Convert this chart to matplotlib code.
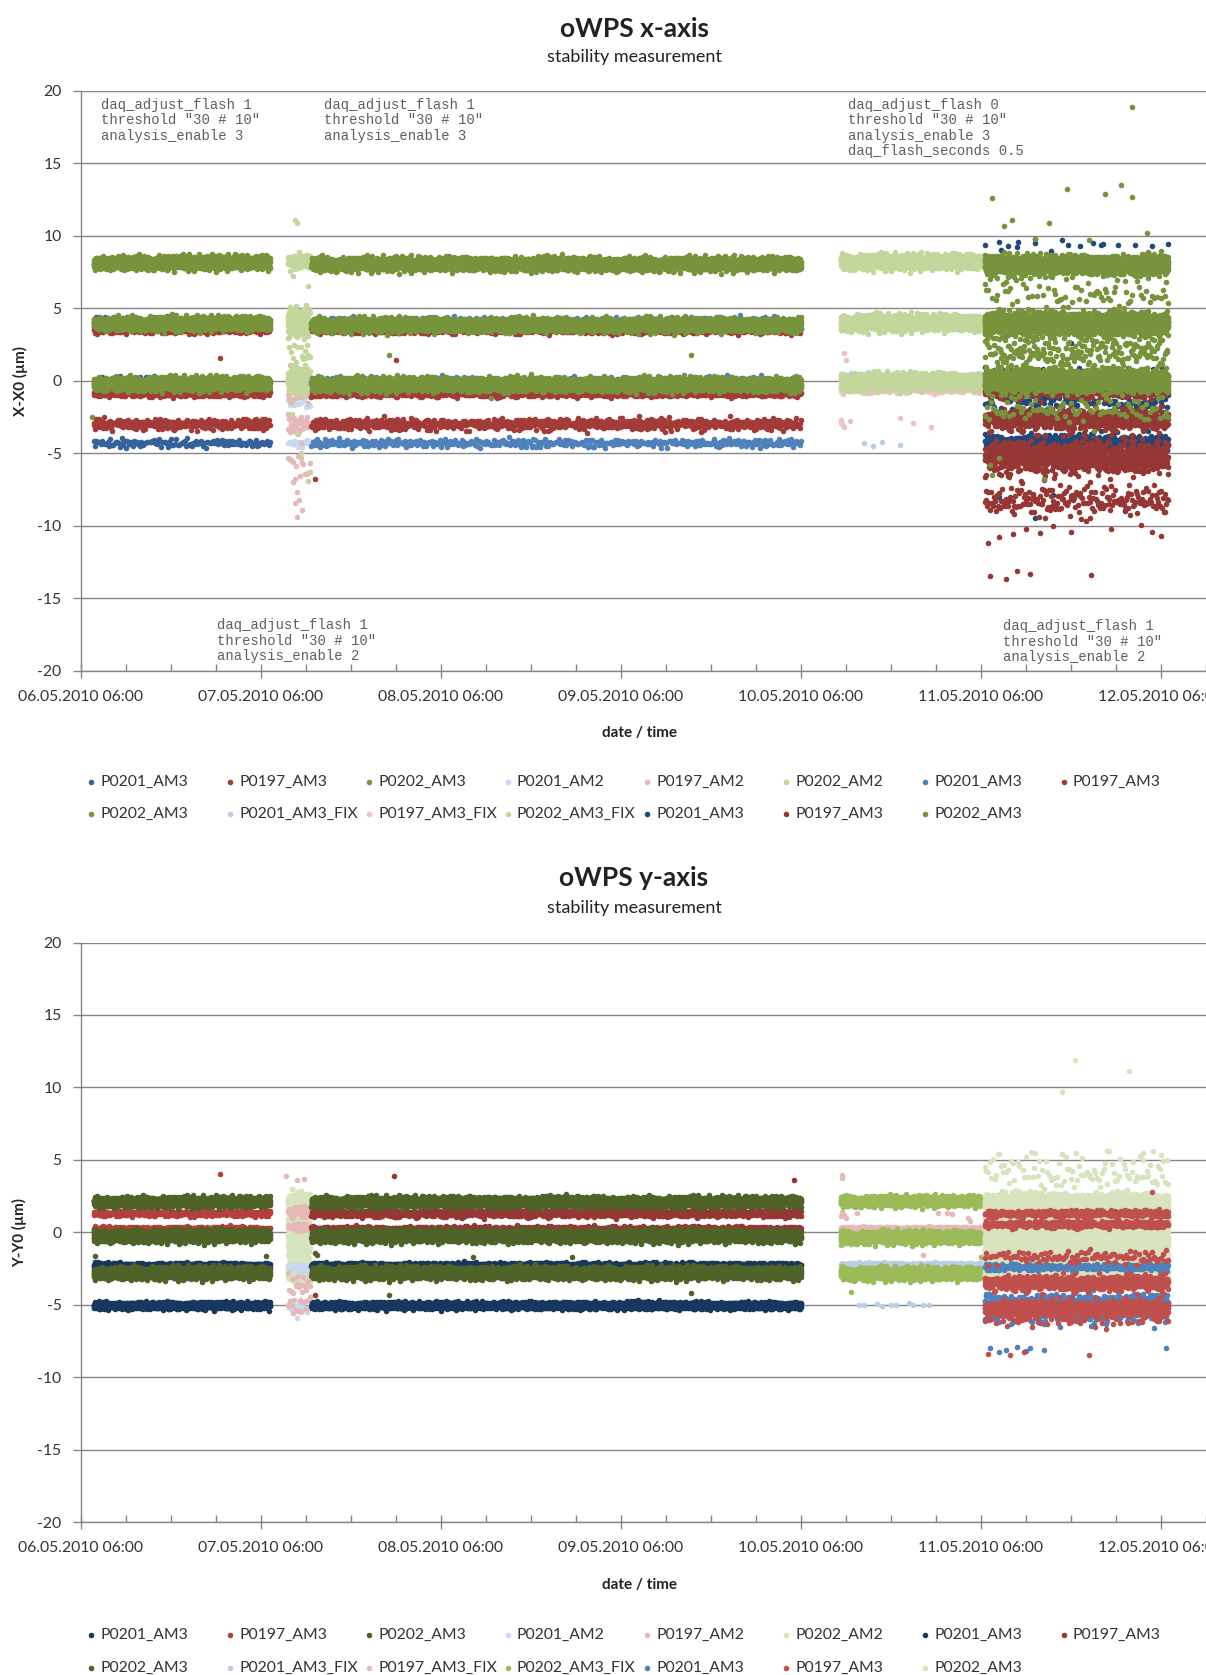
import numpy as np
import matplotlib
matplotlib.use("Agg")
import matplotlib.pyplot as plt
import matplotlib.dates as mdates
from matplotlib.lines import Line2D
from datetime import datetime

plt.rcParams['font.family'] = ['Lato', 'DejaVu Sans']
plt.rcParams['axes.unicode_minus'] = False

W, H = 1206, 1675

START = datetime(2010, 5, 6, 6, 0)
END = datetime(2010, 5, 12, 12, 0)
BASE = mdates.date2num(START)

SERIES = ["P0201_AM3", "P0197_AM3", "P0202_AM3", "P0201_AM2", "P0197_AM2",
          "P0202_AM2", "P0201_AM3", "P0197_AM3", "P0202_AM3", "P0201_AM3_FIX",
          "P0197_AM3_FIX", "P0202_AM3_FIX", "P0201_AM3", "P0197_AM3", "P0202_AM3"]

# measurement runs, in days after 06.05.2010 06:00
SEGMENTS = {"A": (0.07, 1.05), "B": (1.15, 1.27), "C": (1.28, 4.00),
            "D": (4.22, 5.01), "E": (5.02, 6.04)}

# scatter offsets of single readings around a band centre (units of sigma)
SCATTER_1 = [0.12, -1.35, 0.58, -0.27, 1.71, -0.84, 0.03, 0.96, -1.92, 0.41,
             -0.55, 1.18, -0.09, 0.73, -1.12, 0.27, 2.25, -0.38, -0.71, 0.49,
             1.42, -1.58, 0.18, -0.02, 0.86, -0.46, -2.31, 0.64, 1.05, -0.19,
             -0.93, 0.34, 1.63, -0.61, 0.08, -1.27, 0.52, -0.33, 0.91, -0.78,
             1.29, -0.14, -1.74, 0.22, 0.67, -0.50, 1.88, -1.03, 0.39, -0.24,
             0.81, -0.67, 0.15, -1.46, 1.11, -0.06, 0.45, -0.88, 2.02, -0.41, 0.29]
SCATTER_2 = [-0.44, 1.07, 0.21, -1.61, 0.66, -0.12, 0.35, -0.97, 1.52, -0.28,
             0.04, -0.69, 1.24, -1.88, 0.57, 0.19, -0.36, 0.83, -1.15, 0.48,
             -0.07, 2.11, -0.58, 0.31, -1.32, 0.74, -0.21, 0.95, -0.79, 0.11,
             -2.05, 0.62, 1.37, -0.49, 0.26, -0.93, 0.01, 1.69, -0.31, -0.64,
             0.88, -1.21, 0.43, -0.16, 1.02, -0.55, 0.14]

X_COLORS = ["#35629A", "#A33B38", "#77933C", "#C6D9F1", "#E6B9B8", "#C3D69B",
            "#4F81BD", "#A33B38", "#77933C", "#B9CDE5", "#EBC3C2", "#C3D69B",
            "#1F497D", "#953735", "#77933C"]
Y_COLORS = ["#17375E", "#B43F3C", "#4F6228", "#C6D9F1", "#E6B9B8", "#D7E4BD",
            "#17375E", "#953735", "#4F6228", "#B9CDE5", "#E6B9B8", "#9BBB59",
            "#4F81BD", "#C0504D", "#D7E4BD"]

# (series, run, centre µm, sigma µm, readings per day)
X_BANDS = [
    (0, "A", 4.05, 0.16, 250), (0, "A", -0.05, 0.16, 250), (0, "A", -4.30, 0.15, 130),
    (1, "A", 3.50, 0.12, 350), (1, "A", -0.85, 0.12, 550), (1, "A", -3.00, 0.20, 280),
    (2, "A", 8.15, 0.22, 1600), (2, "A", 3.95, 0.22, 1800), (2, "A", -0.20, 0.22, 1800),
    (3, "B", -4.30, 0.15, 150), (3, "B", -1.60, 0.30, 100),
    (4, "B", -3.00, 0.35, 400), (4, "B", -0.90, 0.30, 300), (4, "B", -6.00, 1.20, 120),
    (5, "B", 8.20, 0.25, 800), (5, "B", 4.00, 0.45, 2500), (5, "B", 0.00, 0.40, 2500),
    (5, "B", 2.00, 0.80, 150),
    (6, "C", 4.05, 0.16, 250), (6, "C", -0.05, 0.16, 250), (6, "C", -4.30, 0.15, 150),
    (7, "C", 3.50, 0.12, 350), (7, "C", -0.85, 0.12, 550), (7, "C", -3.00, 0.20, 280),
    (8, "C", 8.05, 0.22, 1600), (8, "C", 3.85, 0.22, 1800), (8, "C", -0.25, 0.22, 1800),
    (9, "D", 0.25, 0.12, 300),
    (10, "D", -0.60, 0.12, 300),
    (11, "D", 8.20, 0.24, 1800), (11, "D", 4.00, 0.26, 2000), (11, "D", -0.05, 0.26, 2000),
    (12, "E", -4.30, 0.30, 550), (12, "E", -1.50, 0.40, 120), (12, "E", 9.30, 0.30, 12),
    (12, "E", 0.50, 0.30, 60),
    (13, "E", -2.70, 0.35, 700), (13, "E", -5.30, 0.55, 950), (13, "E", -8.30, 0.55, 200),
    (13, "E", -0.70, 0.25, 500),
    (14, "E", 8.00, 0.30, 2000), (14, "E", 3.95, 0.35, 2500), (14, "E", 0.00, 0.35, 2500),
    (14, "E", 6.00, 1.00, 100), (14, "E", 2.00, 0.80, 250), (14, "E", -2.00, 0.50, 90),
]

# single readings away from the bands: (series, day, µm)
X_OUTLIERS = [
    (1, 0.77, 1.6), (1, 0.51, -1.2), (2, 0.06, -2.5),
    (4, 1.16, 1.1), (4, 1.20, 0.9), (4, 1.22, -5.3), (4, 1.23, -5.7), (4, 1.18, -7.0),
    (4, 1.20, -7.7), (4, 1.19, -8.4), (4, 1.21, -8.2), (4, 1.20, -9.4), (4, 1.23, -8.9),
    (5, 1.19, 11.1), (5, 1.20, 10.9), (5, 1.21, 8.9), (5, 1.18, 7.2), (5, 1.26, 6.5),
    (5, 1.16, 5.1), (5, 1.20, 4.7), (5, 1.17, -2.3), (5, 1.20, -3.7), (5, 1.22, -5.0),
    (5, 1.27, -6.3), (5, 1.26, -6.9),
    (7, 1.75, 1.4), (7, 1.30, -6.8),
    (8, 1.71, 1.8), (8, 3.39, 1.8), (8, 2.28, -1.2),
    (9, 4.35, -4.3), (9, 4.40, -4.5), (9, 4.45, -4.2), (9, 4.55, -4.4),
    (10, 4.24, 1.9), (10, 4.25, 1.4), (10, 4.22, -2.7), (10, 4.23, -3.0),
    (10, 4.24, -3.2), (10, 4.22, -2.9), (10, 4.27, -2.8), (10, 4.55, -2.6),
    (10, 4.62, -2.9), (10, 4.72, -3.2),
    (12, 5.10, 9.6), (12, 5.15, 9.3), (12, 5.30, 9.5), (12, 5.45, 9.7), (12, 5.55, 9.3),
    (12, 5.62, 9.5), (12, 5.68, 9.4), (12, 5.20, 9.2), (12, 5.50, 2.6), (12, 5.10, -8.0),
    (12, 5.30, -9.5), (12, 5.80, -9.0), (12, 5.40, -7.9),
    (13, 5.05, -13.5), (13, 5.14, -13.7), (13, 5.20, -13.1), (13, 5.27, -13.3),
    (13, 5.61, -13.4), (13, 5.04, -11.2), (13, 5.10, -10.8), (13, 5.18, -10.6),
    (13, 5.25, -10.2), (13, 5.33, -10.5), (13, 5.50, -10.4), (13, 5.72, -10.2),
    (13, 5.95, -10.4), (13, 6.00, -10.7), (13, 5.40, -10.0),
    (14, 5.06, 12.6), (14, 5.48, 13.2), (14, 5.69, 12.9), (14, 5.78, 13.5),
    (14, 5.84, 12.7), (14, 5.17, 11.1), (14, 5.13, 10.7), (14, 5.38, 10.9),
    (14, 5.92, 10.2), (14, 5.84, 18.9), (14, 5.30, 9.8), (14, 5.60, 9.7),
    (14, 5.05, -5.8), (14, 5.06, -6.5), (14, 5.35, -6.8), (14, 5.10, -5.3),
]

Y_BANDS = [
    (0, "A", -2.30, 0.10, 700), (0, "A", -5.05, 0.12, 1200),
    (1, "A", 1.30, 0.10, 380), (1, "A", 0.20, 0.10, 600),
    (2, "A", 2.10, 0.17, 1600), (2, "A", -0.25, 0.20, 1800), (2, "A", -2.80, 0.20, 1800),
    (3, "B", -2.45, 0.15, 400), (3, "B", -5.10, 0.25, 150),
    (4, "B", 1.40, 0.22, 400), (4, "B", 0.35, 0.15, 300), (4, "B", -3.60, 0.40, 150),
    (4, "B", -4.90, 0.30, 100),
    (5, "B", 2.10, 0.30, 2000), (5, "B", 1.00, 0.40, 800), (5, "B", -0.20, 0.45, 2500),
    (5, "B", -1.50, 0.40, 600), (5, "B", -2.70, 0.35, 2000),
    (6, "C", -2.30, 0.10, 700), (6, "C", -5.05, 0.12, 1200),
    (7, "C", 1.30, 0.12, 500), (7, "C", 0.20, 0.10, 600),
    (8, "C", 2.10, 0.17, 1600), (8, "C", -0.25, 0.20, 1800), (8, "C", -2.80, 0.20, 1800),
    (9, "D", -2.25, 0.08, 500),
    (10, "D", 0.25, 0.07, 500),
    (11, "D", 2.15, 0.17, 1600), (11, "D", -0.35, 0.20, 1800), (11, "D", -2.85, 0.20, 1800),
    (12, "E", -2.40, 0.12, 250), (12, "E", -5.20, 0.45, 700), (12, "E", -4.90, 0.30, 250),
    (13, "E", 1.30, 0.12, 350), (13, "E", 0.55, 0.12, 350), (13, "E", -3.50, 0.25, 700),
    (13, "E", -5.30, 0.30, 700), (13, "E", -1.70, 0.25, 100), (13, "E", -6.00, 0.40, 50),
    (14, "E", 2.00, 0.30, 2500), (14, "E", 0.50, 0.45, 2500), (14, "E", -0.60, 0.45, 2500),
    (14, "E", -2.70, 0.35, 1800), (14, "E", 4.00, 0.80, 110), (14, "E", -1.60, 0.40, 600),
]

Y_OUTLIERS = [
    (1, 0.77, 4.0), (2, 0.08, -1.67), (2, 1.03, -1.67),
    (3, 1.20, -5.9), (3, 1.23, -5.3),
    (4, 1.14, 3.9), (4, 1.20, 3.6), (4, 1.24, 3.7), (4, 1.18, -5.6), (4, 1.22, -5.5),
    (5, 1.17, 3.0), (5, 1.20, 2.8), (5, 1.25, 2.6),
    (7, 1.74, 3.85), (7, 3.96, 3.6), (7, 1.30, -4.3),
    (8, 2.18, -1.7), (8, 2.73, -1.7), (8, 1.71, -4.3), (8, 3.39, -4.2),
    (8, 1.30, -1.4), (8, 1.31, -1.6),
    (9, 4.32, -5.0), (9, 4.35, -5.05), (9, 4.42, -4.95), (9, 4.45, -5.1), (9, 4.50, -5.0),
    (9, 4.53, -5.05), (9, 4.60, -4.9), (9, 4.62, -5.0), (9, 4.68, -5.0), (9, 4.71, -5.05),
    (10, 4.23, 3.97), (10, 4.23, 3.75), (10, 4.22, 1.1), (10, 4.23, 1.4), (10, 4.24, 1.2),
    (10, 4.25, 1.0), (10, 4.31, 1.34), (10, 4.76, 1.3), (10, 4.81, 1.35), (10, 4.84, 1.25),
    (10, 4.93, 1.0), (10, 4.94, 0.8), (10, 4.68, -1.55),
    (11, 4.28, -4.15), (11, 5.00, -1.7),
    (12, 5.05, -8.0), (12, 5.10, -8.3), (12, 5.14, -8.1), (12, 5.20, -7.9), (12, 5.25, -8.2),
    (12, 5.27, -8.0), (12, 5.35, -8.1), (12, 6.03, -8.0), (12, 5.30, -5.9), (12, 5.60, -6.0),
    (13, 5.04, -8.4), (13, 5.16, -8.5), (13, 5.24, -8.3), (13, 5.60, -8.5), (13, 5.95, 2.8),
    (13, 5.50, -6.2),
    (14, 5.52, 11.9), (14, 5.82, 11.16), (14, 5.45, 9.7), (14, 5.10, 5.4), (14, 5.30, 5.5),
    (14, 5.70, 5.6), (14, 5.90, 5.5), (14, 6.00, 5.3),
]

X_DRAW_ORDER = list(range(15))
Y_DRAW_ORDER = [0, 1, 2, 5, 3, 4, 6, 7, 8, 9, 10, 11, 14, 12, 13]

# acquisition settings written on the x-axis panel: (day, µm, text)
X_NOTES = [
    (0.111, 19.5, 'daq_adjust_flash 1\nthreshold "30 # 10"\nanalysis_enable 3'),
    (1.35, 19.5, 'daq_adjust_flash 1\nthreshold "30 # 10"\nanalysis_enable 3'),
    (4.26, 19.5, 'daq_adjust_flash 0\nthreshold "30 # 10"\nanalysis_enable 3\n'
                 'daq_flash_seconds 0.5'),
    (0.756, -16.4, 'daq_adjust_flash 1\nthreshold "30 # 10"\nanalysis_enable 2'),
    (5.12, -16.45, 'daq_adjust_flash 1\nthreshold "30 # 10"\nanalysis_enable 2'),
]

GRID = "#868686"
TEXT = "#333333"


def series_points(bands, outliers, idx):
    ts, ys = [], []
    for k, (s, seg, centre, sigma, per_day) in enumerate(bands):
        if s != idx:
            continue
        t0, t1 = SEGMENTS[seg]
        n = max(2, int(round(per_day * (t1 - t0))))
        i = np.arange(n) + 17 * k
        a = np.take(SCATTER_1, i % len(SCATTER_1))
        b = np.take(SCATTER_2, (3 * i) % len(SCATTER_2))
        ts.append(np.linspace(t0, t1, n))
        ys.append(centre + sigma * (a + b) / np.sqrt(2.0))
    for s, t, v in outliers:
        if s == idx:
            ts.append(np.array([t]))
            ys.append(np.array([v]))
    if not ts:
        return np.array([]), np.array([])
    return np.concatenate(ts), np.concatenate(ys)


fig = plt.figure(figsize=(W / 100, H / 100), dpi=100)


def px_x(x):
    return x / W


def px_y(y):
    return 1 - y / H


def panel(top_px, bottom_px, bands, outliers, colors, order, ylabel, notes):
    ax = fig.add_axes([px_x(81), px_y(bottom_px), 1 - px_x(81), (bottom_px - top_px) / H])
    for z, idx in enumerate(order):
        t, v = series_points(bands, outliers, idx)
        ax.plot(BASE + t, v, "o", ms=4.0, mew=0, color=colors[idx], zorder=2 + z * 0.01)
    ax.set_xlim(mdates.date2num(START), mdates.date2num(END))
    ax.set_ylim(-20, 20)
    ax.set_yticks(np.arange(-20, 21, 5))
    ax.xaxis.set_major_locator(mdates.HourLocator(byhour=[6]))
    ax.xaxis.set_minor_locator(mdates.HourLocator(byhour=[0, 12, 18]))
    ax.xaxis.set_major_formatter(mdates.DateFormatter("%d.%m.%Y %H:%M"))
    ax.set_axisbelow(True)
    ax.yaxis.grid(True, color=GRID, lw=1.0)
    for side in ("top", "right"):
        ax.spines[side].set_visible(False)
    for side in ("left", "bottom"):
        ax.spines[side].set_color(GRID)
        ax.spines[side].set_linewidth(1.0)
    ax.tick_params(axis="y", which="major", direction="out", length=6, width=1,
                   color=GRID, labelsize=11.3, labelcolor=TEXT, pad=8)
    ax.tick_params(axis="x", which="major", direction="inout", length=10, width=1,
                   color=GRID, labelsize=11.3, labelcolor=TEXT, pad=9)
    ax.tick_params(axis="x", which="minor", direction="in", length=5, width=1, color=GRID)
    for t, v, txt in notes:
        ax.text(BASE + t, v, txt, ha="left", va="top", fontsize=10,
                family="Liberation Mono", color="#5f5f5f", linespacing=1.12, zorder=5)
    fig.text(px_x(20), px_y((top_px + bottom_px) / 2), ylabel, rotation=90,
             ha="center", va="center", fontsize=11, weight="bold", color="#222222")
    return ax


def headings(title, title_y, sub_y):
    fig.text(px_x(634), px_y(title_y), title, ha="center", va="center",
             fontsize=19, weight="bold", color="#222222")
    fig.text(px_x(634), px_y(sub_y), "stability measurement", ha="center",
             va="center", fontsize=13, color="#222222")


def legend(colors, row_ys):
    for idx, name in enumerate(SERIES):
        row, col = divmod(idx, 8)
        x = 91 + 139 * col
        y = row_ys[row]
        fig.add_artist(Line2D([px_x(x)], [px_y(y)], marker="o", ms=4.0, mew=0,
                              color=colors[idx], ls="none", transform=fig.transFigure))
        fig.text(px_x(x + 9), px_y(y), name, ha="left", va="center",
                 fontsize=11.3, color=TEXT)


# x-axis panel
headings("oWPS x-axis", 29, 57)
panel(90.7, 670.7, X_BANDS, X_OUTLIERS, X_COLORS, X_DRAW_ORDER, "X-X0 (µm)", X_NOTES)
fig.text(px_x(640), px_y(733), "date / time", ha="center", va="center",
         fontsize=11, weight="bold", color="#222222")
legend(X_COLORS, (782, 814))

# y-axis panel
headings("oWPS y-axis", 878, 908)
panel(942.5, 1522, Y_BANDS, Y_OUTLIERS, Y_COLORS, Y_DRAW_ORDER, "Y-Y0 (µm)", [])
fig.text(px_x(640), px_y(1585), "date / time", ha="center", va="center",
         fontsize=11, weight="bold", color="#222222")
legend(Y_COLORS, (1635, 1668))

fig.savefig("out.png", dpi=100, facecolor="white")
